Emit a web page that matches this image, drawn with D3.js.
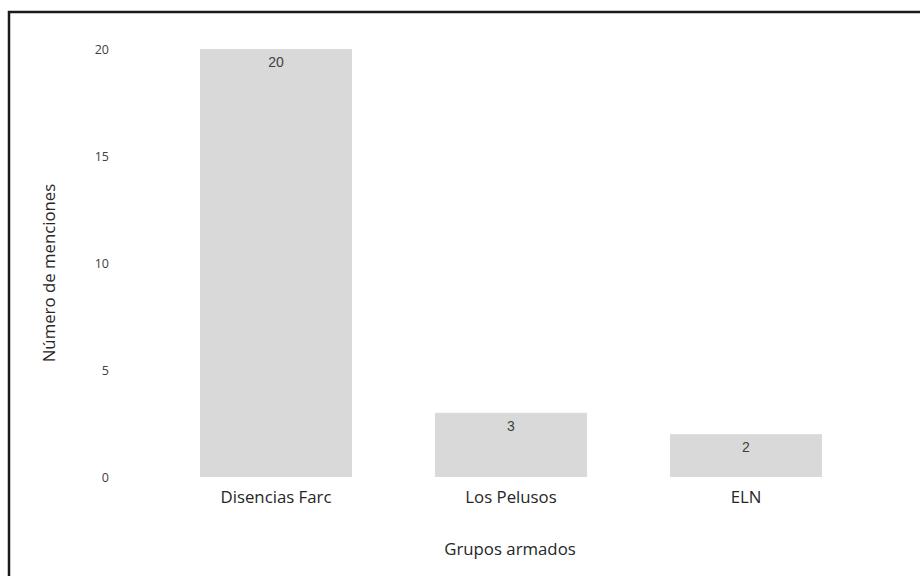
<!DOCTYPE html>
<html><head><meta charset="utf-8">
<script src="https://cdn.jsdelivr.net/npm/d3@7"></script>
<style>body{margin:0;background:#fff}svg{display:block}</style>
</head><body>
<svg id="c" width="920" height="576"></svg>
<script>
const categories = ["Disencias Farc", "Los Pelusos", "ELN"];
const values = [20, 3, 2];
const yTicks = [0, 5, 10, 15, 20];

const svg = d3.select("#c");
// outer frame
svg.append("rect").attr("x", 9).attr("y", 12).attr("width", 930).attr("height", 600)
  .attr("fill", "none").attr("stroke", "#1a1a1a").attr("stroke-width", 2.5);

const x = d3.scaleBand().domain(categories).range([158.5, 863.5])
  .paddingInner(0.353).paddingOuter(0.1765);
const y = d3.scaleLinear().domain([0, 20]).range([477, 49]);

svg.selectAll("rect.bar").data(values).join("rect").attr("class", "bar")
  .attr("x", (d, i) => x(categories[i])).attr("width", x.bandwidth())
  .attr("y", d => y(d)).attr("height", d => y(0) - y(d))
  .attr("fill", "#d9d9d9");

svg.selectAll("text.val").data(values).join("text").attr("class", "val")
  .attr("x", (d, i) => x(categories[i]) + x.bandwidth() / 2)
  .attr("y", d => y(d) + 18)
  .attr("text-anchor", "middle").attr("font-family", "Liberation Sans, Arial, sans-serif")
  .attr("font-size", 14).attr("fill", "#404040").text(d => d);

const yAxis = d3.axisLeft(y).tickValues(yTicks).tickSize(0).tickPadding(0);
const gy = svg.append("g").attr("transform", "translate(109,0)").call(yAxis);
gy.select(".domain").remove();
gy.selectAll("text").attr("font-family", "Open Sans, sans-serif").attr("font-size", 12.5).attr("fill", "#404040");

const xAxis = d3.axisBottom(x).tickSize(0).tickPadding(0);
const gx = svg.append("g").attr("transform", "translate(0,0)").call(xAxis);
gx.select(".domain").remove();
gx.selectAll("text").attr("y", 503).attr("dy", null)
  .attr("font-family", "Open Sans, sans-serif").attr("font-size", 16.8).attr("fill", "#262626");

svg.append("text").attr("x", 510).attr("y", 555).attr("text-anchor", "middle")
  .attr("font-family", "Open Sans, sans-serif").attr("font-size", 16.8).attr("fill", "#262626")
  .text("Grupos armados");
svg.append("text").attr("transform", "translate(55,273) rotate(-90)").attr("text-anchor", "middle")
  .attr("font-family", "Open Sans, sans-serif").attr("font-size", 16.8).attr("fill", "#262626")
  .text("Número de menciones");
</script>
</body></html>
